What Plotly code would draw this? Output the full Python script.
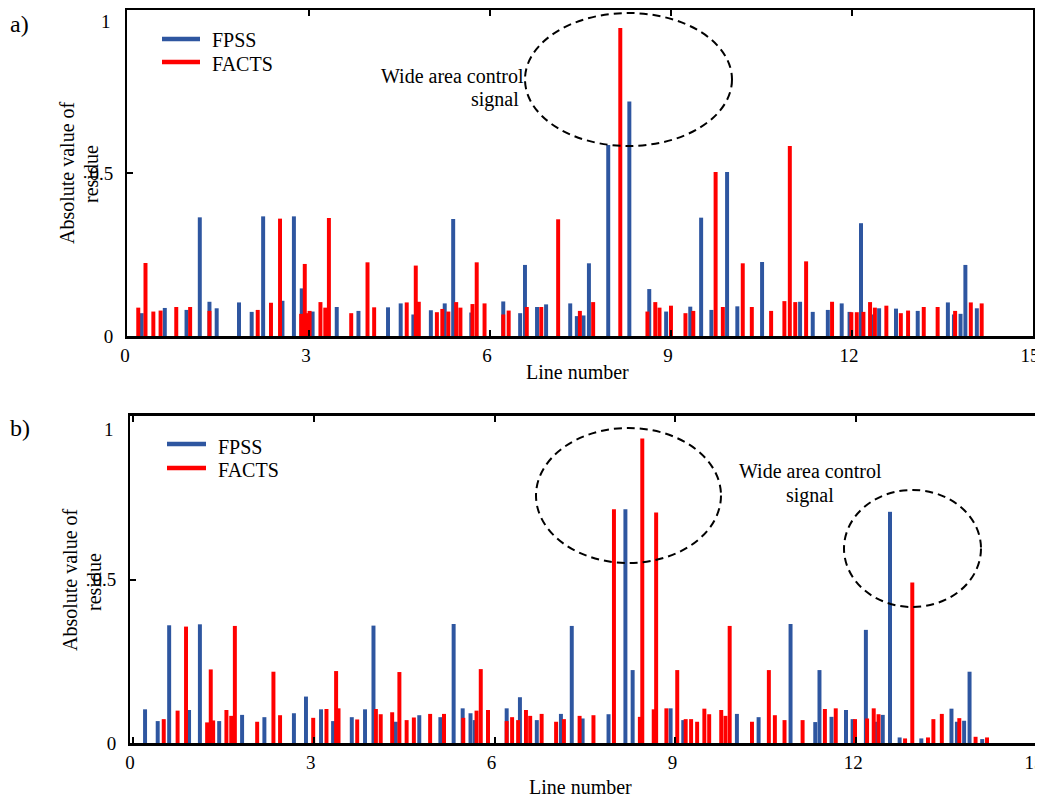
import plotly.graph_objects as go

# ---------------- data ----------------
# Panel a)
a_fpss_x = [0.227, 0.61, 0.97, 1.19, 1.35, 1.47, 1.84, 2.05, 2.24, 2.56, 2.75, 2.88, 3.06, 3.46, 3.82,
            4.31, 4.52, 4.73, 5.02, 5.25, 5.39, 5.69, 6.22, 6.50, 6.58, 6.78, 6.93, 7.33, 7.44, 7.55,
            7.64, 7.96, 8.31, 8.64, 8.92, 9.32, 9.50, 9.67, 9.93, 10.10, 10.51, 11.14, 11.35, 11.60,
            11.83, 11.96, 12.15, 12.34, 12.45, 12.73, 13.09, 13.59, 13.69, 13.80, 13.88, 14.07]
a_fpss_y = [0.07, 0.086, 0.08, 0.364, 0.105, 0.085, 0.103, 0.074, 0.367, 0.108, 0.367, 0.146, 0.075, 0.089, 0.077,
            0.088, 0.10, 0.066, 0.079, 0.10, 0.359, 0.072, 0.106, 0.07, 0.218, 0.089, 0.097, 0.10, 0.061, 0.063,
            0.223, 0.586, 0.719, 0.144, 0.075, 0.09, 0.363, 0.08, 0.503, 0.091, 0.227, 0.105, 0.074, 0.08,
            0.10, 0.074, 0.346, 0.066, 0.085, 0.084, 0.077, 0.103, 0.066, 0.068, 0.218, 0.085]
a_facts_x = [0.17, 0.29, 0.42, 0.54, 0.80, 1.03, 1.35, 2.15, 2.37, 2.52, 2.87, 2.93, 2.97, 3.01, 3.19,
             3.27, 3.33, 3.70, 3.97, 4.08, 4.62, 4.77, 4.82, 5.12, 5.21, 5.31, 5.44, 5.51, 5.71, 5.78,
             5.91, 6.22, 6.31, 6.61, 6.85, 7.13, 7.49, 7.71, 8.16, 8.61, 8.74, 8.81, 9.00, 9.24, 9.37,
             9.74, 9.86, 10.19, 10.34, 10.66, 10.88, 10.97, 11.06, 11.24, 11.67, 11.99, 12.08, 12.19,
             12.30, 12.38, 12.57, 12.81, 12.93, 13.19, 13.42, 13.71, 13.97, 14.15]
a_facts_y = [0.087, 0.224, 0.075, 0.078, 0.089, 0.089, 0.077, 0.08, 0.102, 0.36, 0.068, 0.221, 0.07, 0.077, 0.104,
             0.087, 0.362, 0.07, 0.226, 0.088, 0.103, 0.216, 0.105, 0.073, 0.083, 0.075, 0.104, 0.087, 0.098, 0.226,
             0.10, 0.066, 0.078, 0.089, 0.089, 0.358, 0.077, 0.104, 0.945, 0.075, 0.104, 0.087, 0.093, 0.07, 0.077,
             0.503, 0.089, 0.223, 0.089, 0.077, 0.107, 0.583, 0.104, 0.229, 0.105, 0.073, 0.073, 0.074,
             0.104, 0.087, 0.093, 0.07, 0.078, 0.089, 0.089, 0.077, 0.103, 0.10]

# Panel b)
b_fpss_x = [0.20, 0.41, 0.60, 0.93, 1.11, 1.43, 1.81, 2.18, 2.67, 2.87, 3.12, 3.32, 3.63, 3.85, 3.99,
            4.36, 4.75, 5.10, 5.32, 5.47, 5.60, 5.67, 6.20, 6.42, 6.70, 7.10, 7.28, 7.46, 7.89, 8.17,
            8.29, 8.92, 9.13, 10.02, 10.38, 10.91, 11.32, 11.39, 11.59, 11.83, 11.94, 12.16, 12.34,
            12.44, 12.56, 12.72, 13.08, 13.58, 13.67, 13.79, 13.88, 14.09]
b_fpss_y = [0.103, 0.067, 0.36, 0.101, 0.363, 0.067, 0.086, 0.079, 0.091, 0.142, 0.103, 0.067, 0.079, 0.103, 0.359,
            0.065, 0.085, 0.079, 0.364, 0.106, 0.091, 0.07, 0.106, 0.14, 0.07, 0.089, 0.358, 0.075, 0.088, 0.715,
            0.223, 0.106, 0.07, 0.089, 0.079, 0.364, 0.064, 0.223, 0.08, 0.101, 0.073, 0.346, 0.065,
            0.086, 0.707, 0.017, 0.014, 0.105, 0.065, 0.068, 0.218, 0.012]
b_facts_x = [0.51, 0.74, 0.88, 1.23, 1.29, 1.33, 1.55, 1.63, 1.69, 2.06, 2.33, 2.44, 2.99, 3.21, 3.37,
             3.41, 3.72, 4.03, 4.11, 4.30, 4.42, 4.54, 4.66, 4.93, 5.16, 5.48, 5.70, 5.77, 5.89, 6.20,
             6.29, 6.39, 6.52, 6.59, 6.78, 7.02, 7.15, 7.41, 7.64, 7.98, 8.41, 8.45, 8.64, 8.68, 8.85,
             9.03, 9.17, 9.26, 9.36, 9.48, 9.56, 9.76, 9.83, 9.90, 10.27, 10.55, 10.65, 10.81, 11.11,
             11.48, 11.66, 11.98, 12.18, 12.29, 12.37, 12.81, 12.93, 13.19, 13.28, 13.42, 13.71, 13.98, 14.17]
b_facts_y = [0.073, 0.099, 0.356, 0.063, 0.225, 0.069, 0.101, 0.083, 0.358, 0.065, 0.218, 0.085, 0.077, 0.104, 0.22,
             0.106, 0.072, 0.104, 0.088, 0.094, 0.217, 0.07, 0.078, 0.089, 0.089, 0.077, 0.099, 0.226, 0.101, 0.067,
             0.079, 0.07, 0.101, 0.083, 0.089, 0.065, 0.073, 0.083, 0.085, 0.715, 0.08, 0.931, 0.103, 0.705, 0.106,
             0.223, 0.073, 0.073, 0.065, 0.105, 0.088, 0.101, 0.083, 0.358, 0.065, 0.223, 0.085, 0.07, 0.07,
             0.104, 0.106, 0.073, 0.075, 0.106, 0.088, 0.014, 0.491, 0.017, 0.073, 0.089, 0.076, 0.019, 0.017]

x_ticks = [0, 3, 6, 9, 12, 15]
y_ticks = [0, 0.5, 1]
y_tick_text = ["0", "0.5", ""]      # the top label "1" sits below the frame; drawn as text below
y_top_label = "1"
series_names = ["FPSS", "FACTS"]

# ---------------- style ----------------
BLUE = "#2E56A0"
RED = "#FF0000"
FONT = "Liberation Serif, Times New Roman, serif"
BAR_W = 0.066

fig = go.Figure()

def add_bars(xs, ys, color, xa, ya, name):
    fig.add_trace(go.Bar(x=xs, y=ys, width=BAR_W, name=name,
                         marker=dict(color=color, line=dict(width=0)),
                         xaxis=xa, yaxis=ya, showlegend=False))

add_bars(a_fpss_x, a_fpss_y, BLUE, "x", "y", series_names[0])
add_bars(a_facts_x, a_facts_y, RED, "x", "y", series_names[1])
add_bars(b_fpss_x, b_fpss_y, BLUE, "x2", "y2", series_names[0])
add_bars(b_facts_x, b_facts_y, RED, "x2", "y2", series_names[1])

# page body has an 8px margin: work in screen pixels and convert
OFF = 8
W, H = 1043 - OFF, 800 - OFF
L, T = 127 - OFF, 10 - OFF
B = H - (743 - OFF)
R = W - (1037 - OFF)
PW, PH = W - L - R, H - T - B

def px(xs):
    return (xs - OFF - L) / PW

def py(ys):
    return (H - B - (ys - OFF)) / PH

axis_common = dict(showline=True, linecolor="black", ticks="inside", ticklen=6, tickcolor="black",
                   tickwidth=1.5, showgrid=False, zeroline=False, automargin=False,
                   ticklabeloverflow="allow",
                   tickfont=dict(family=FONT, size=19, color="black"))

xa = dict(axis_common, tickvals=x_ticks, mirror="ticks", linewidth=2.5, ticklabelshift=-3)
ya = dict(axis_common, range=[0, 1], tickvals=y_ticks, ticktext=y_tick_text, mirror=True, linewidth=2,
          ticklabelstandoff=8)

fig.update_layout(
    width=W, height=H,
    margin=dict(l=L, r=R, t=T, b=B, autoexpand=False),
    paper_bgcolor="white", plot_bgcolor="white",
    barmode="overlay",
    showlegend=False,
    xaxis=dict(xa, domain=[px(127), px(1033)], anchor="y", range=[-1 / 60.33, 905 / 60.33]),
    yaxis=dict(ya, domain=[py(336), py(10)], anchor="x"),
    xaxis2=dict(xa, domain=[px(130), px(1037)], anchor="y2", range=[-3 / 60.27, 904 / 60.27]),
    yaxis2=dict(ya, domain=[py(743), py(416)], anchor="x2"),
)

ann_font = dict(family=FONT, size=20, color="black")
tick_font = dict(family=FONT, size=19, color="black")
annotations = [
    dict(text="a)", x=px(19), y=py(24), font=dict(family=FONT, size=24, color="black")),
    dict(text="b)", x=px(20), y=py(428), font=dict(family=FONT, size=24, color="black")),
    dict(text=y_top_label, x=px(113), y=py(22), xanchor="right", font=tick_font),
    dict(text=y_top_label, x=px(116), y=py(429), xanchor="right", font=tick_font),
    dict(text="Line number", x=px(577), y=py(372), font=ann_font),
    dict(text="Line number", x=px(580), y=py(787), font=ann_font),
    dict(text="Absolute value of", x=px(67), y=py(173), textangle=-90, font=ann_font),
    dict(text="residue", x=px(91), y=py(174), textangle=-90, font=ann_font),
    dict(text="Absolute value of", x=px(70), y=py(580), textangle=-90, font=ann_font),
    dict(text="residue", x=px(94), y=py(582), textangle=-90, font=ann_font),
    dict(text="Wide area control", x=px(526), y=py(76), xanchor="right", font=ann_font),
    dict(text="signal", x=px(521), y=py(99), xanchor="right", font=ann_font),
    dict(text="Wide area control", x=px(810), y=py(471), font=ann_font),
    dict(text="signal", x=px(810), y=py(495), font=ann_font),
    # legends
    dict(text=series_names[0], x=px(210), y=py(40), xanchor="left", font=ann_font),
    dict(text=series_names[1], x=px(210), y=py(64), xanchor="left", font=ann_font),
    dict(text=series_names[0], x=px(216), y=py(447), xanchor="left", font=ann_font),
    dict(text=series_names[1], x=px(216), y=py(470), xanchor="left", font=ann_font),
]
for a in annotations:
    a.setdefault("xanchor", "center")
    a.setdefault("yanchor", "middle")
    fig.add_annotation(xref="paper", yref="paper", showarrow=False, **a)

# legend line symbols
for (x0, x1, yl, color) in [(162, 200, 39, BLUE), (162, 200, 62, RED),
                            (167, 206, 444, BLUE), (167, 206, 468, RED)]:
    fig.add_shape(type="line", xref="paper", yref="paper", x0=px(x0), x1=px(x1), y0=py(yl), y1=py(yl),
                  line=dict(color=color, width=4.5))

ellipse_line = dict(color="black", width=2, dash="8px,5px")
for (x0, y0, x1, y1) in [(525, 13, 732, 146), (536, 428, 721, 563), (844, 490, 981, 607)]:
    fig.add_shape(type="circle", xref="paper", yref="paper",
                  x0=px(x0), x1=px(x1), y0=py(y1), y1=py(y0), line=ellipse_line)

fig.write_html("out.html")
